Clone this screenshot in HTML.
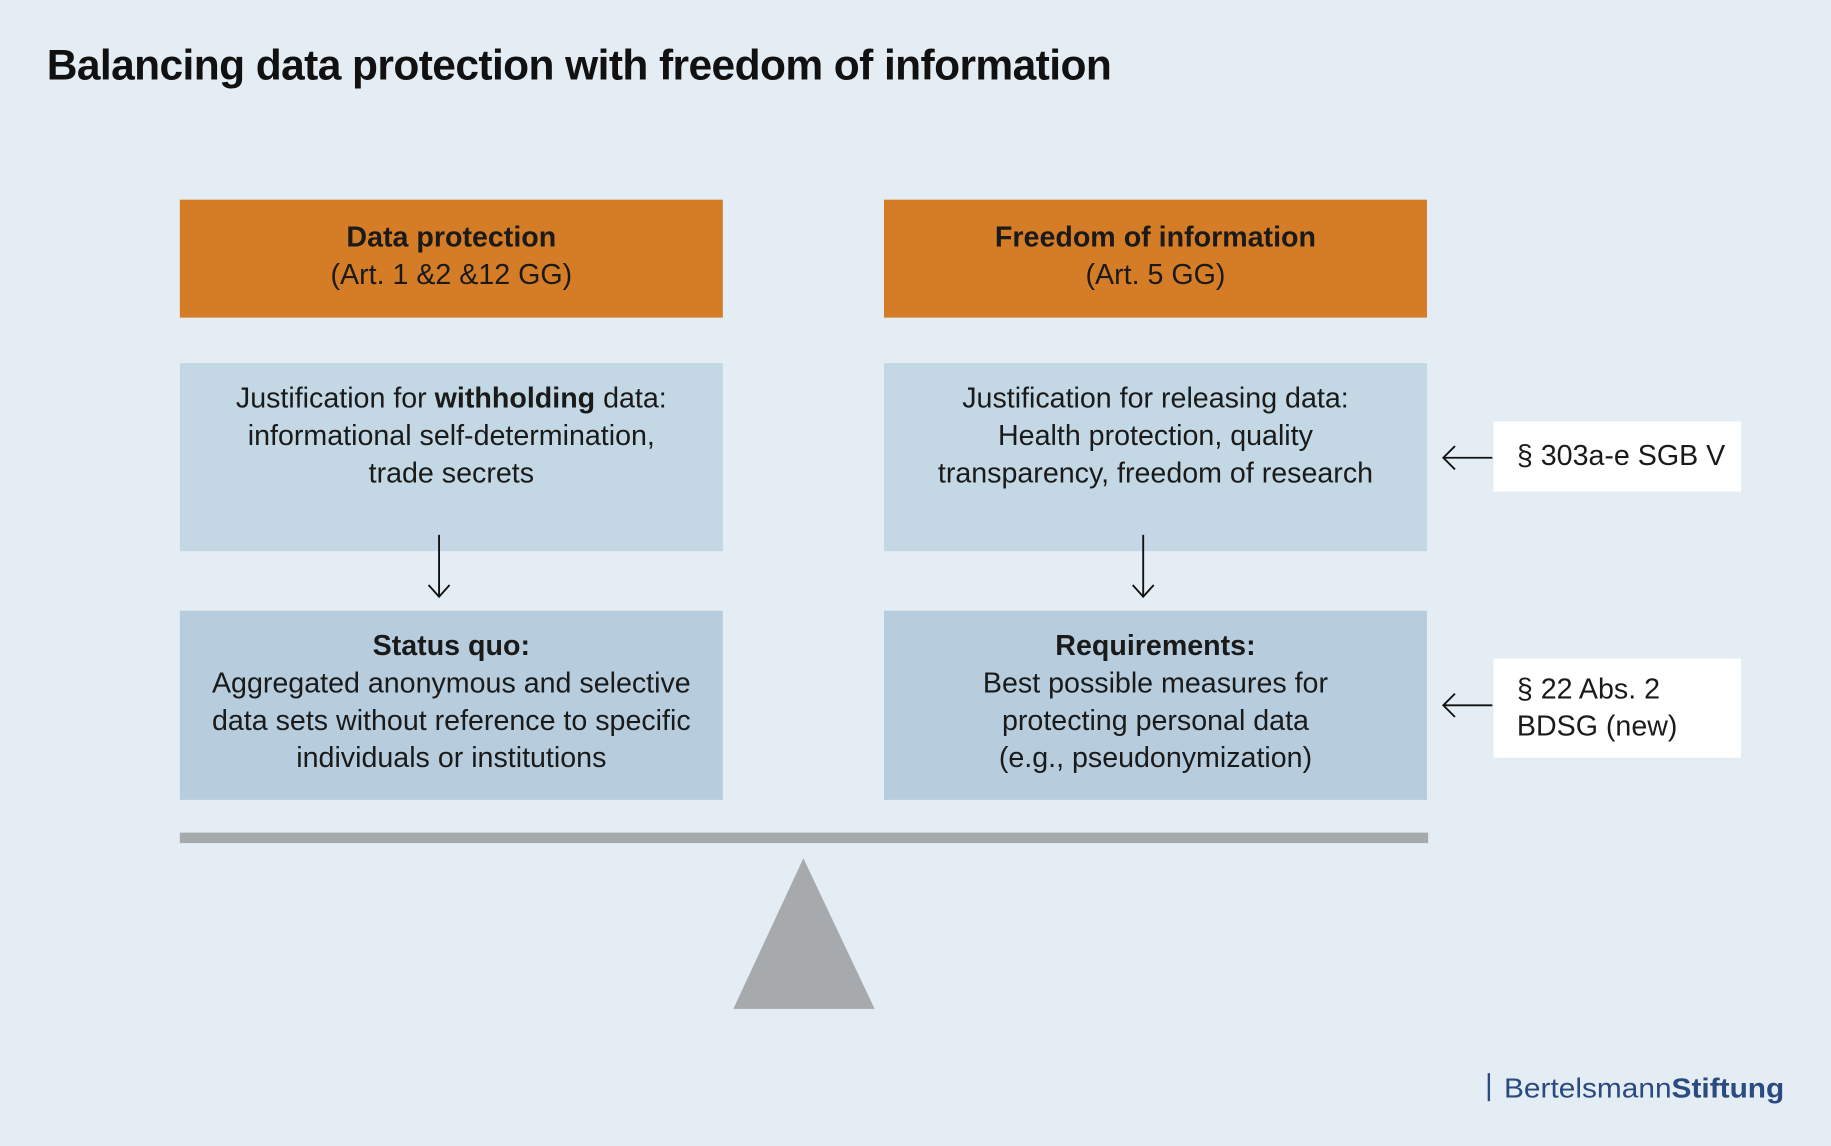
<!DOCTYPE html>
<html><head><meta charset="utf-8"><style>
html,body{margin:0;padding:0;}
body{width:1831px;height:1146px;background:#e4edf4;overflow:hidden;font-family:"Liberation Sans",sans-serif;}
#s{position:absolute;left:0;top:0;width:1568px;height:981px;transform:scale(1.16773);transform-origin:0 0;}
.a{position:absolute;box-sizing:border-box;}
.t{position:absolute;left:40px;top:35px;font-size:36.4px;font-weight:bold;color:#111;letter-spacing:-0.5px;}
.box{display:flex;flex-direction:column;align-items:center;text-align:center;font-size:24.5px;line-height:32px;color:#1a1a1a;white-space:nowrap;}
.or{background:#d57c27;justify-content:center;padding-bottom:4px;}
.l1{background:#c3d7e4;padding-top:15px;}
.l2{background:#b7cddd;padding-top:15px;}
.w{background:#fff;font-size:24.5px;line-height:32px;color:#1a1a1a;padding-left:20px;justify-content:center;display:flex;flex-direction:column;white-space:nowrap;}
</style></head><body><div id="s">
<div class="t">Balancing data protection with freedom of information</div>
<div class="a box or" style="left:154px;top:171px;width:465px;height:101px;"><b>Data protection</b><span>(Art. 1 &amp;2 &amp;12 GG)</span></div>
<div class="a box or" style="left:757px;top:171px;width:465px;height:101px;"><b>Freedom of information</b><span>(Art. 5 GG)</span></div>
<div class="a box l1" style="left:154px;top:311px;width:465px;height:161px;"><span>Justification for <b>withholding</b> data:</span><span>informational self-determination,</span><span>trade secrets</span></div>
<div class="a box l1" style="left:757px;top:311px;width:465px;height:161px;"><span>Justification for releasing data:</span><span>Health protection, quality</span><span>transparency, freedom of research</span></div>
<div class="a box l2" style="left:154px;top:523px;width:465px;height:162px;"><b>Status quo:</b><span>Aggregated anonymous and selective</span><span>data sets without reference to specific</span><span>individuals or institutions</span></div>
<div class="a box l2" style="left:757px;top:523px;width:465px;height:162px;"><b>Requirements:</b><span>Best possible measures for</span><span>protecting personal data</span><span>(e.g., pseudonymization)</span></div>
<div class="a w" style="left:1279px;top:361px;width:212px;height:60px;">§ 303a-e SGB V</div>
<div class="a w" style="left:1279px;top:564px;width:212px;height:85px;"><span>§ 22 Abs. 2</span><span>BDSG (new)</span></div>
<svg class="a" style="left:0;top:0" width="1568" height="981">
<g stroke="#111" stroke-width="1.6" fill="none">
<path d="M376 458V511M367 501L376 511L385 501"/>
<path d="M979 458V511M970 501L979 511L988 501"/>
<path d="M1278 392H1236M1246 382L1236 392L1246 402"/>
<path d="M1278 604H1236M1246 594L1236 604L1246 614"/>
</g>
<rect x="154" y="713" width="1069" height="9" fill="#a7aaad"/>
<polygon points="688,735 749,864 628,864" fill="#a7aaad"/>
<rect x="1274" y="919" width="2" height="24" fill="#2b4a80"/>
<text x="1288" y="940" font-size="24" fill="#2b4a80" font-family="Liberation Sans,sans-serif" textLength="240" lengthAdjust="spacingAndGlyphs">Bertelsmann<tspan font-weight="bold">Stiftung</tspan></text>
</svg>
</div></body></html>
